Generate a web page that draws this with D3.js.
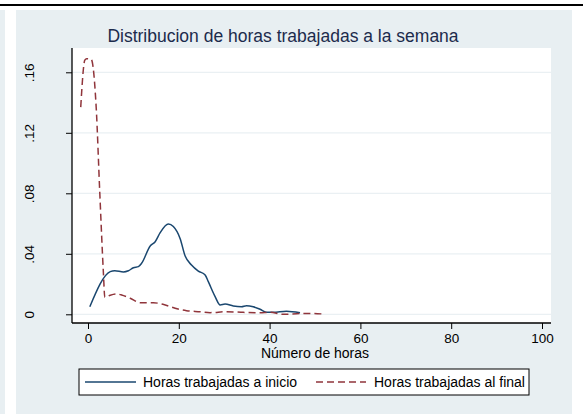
<!DOCTYPE html>
<html>
<head>
<meta charset="utf-8">
<script src="https://cdn.jsdelivr.net/npm/d3@7"></script>
<style>
  body { margin: 0; background: #fff; }
  svg { display: block; font-family: "Liberation Sans", Arial, sans-serif; }
</style>
</head>
<body>
<svg id="chart" width="583" height="419"></svg>
<script>
// Density of weekly hours, start of period (solid line).
const hoursInicio = [0.4, 4.9, 5.9, 7.8, 8.9, 10.0, 11.1, 11.8, 13.7, 14.8, 15.9, 17.7, 18.8, 20.3, 21.4, 22.8, 24.3, 25.8, 26.5, 28.0, 29.1, 30.2, 32.0, 33.8, 34.9, 36.4, 37.9, 39.4, 40.8, 43.7, 46.7];
const densInicio = [0.005, 0.0282, 0.0288, 0.028, 0.0288, 0.0308, 0.0315, 0.0337, 0.0452, 0.048, 0.054, 0.0597, 0.058, 0.050, 0.0385, 0.0326, 0.0286, 0.026, 0.0216, 0.0117, 0.0062, 0.0068, 0.0055, 0.005, 0.0057, 0.005, 0.0033, 0.0013, 0.0013, 0.002, 0.001];

// Density of weekly hours, end of period (dashed line).
const hoursFinal = [-1.6, -0.7, -0.3, 0.7, 1.8, 2.6, 3.4, 3.7, 4.9, 6.3, 7.4, 9.3, 11.5, 14.4, 16.5, 19.2, 21.7, 24.7, 26.9, 30.5, 34.2, 37.9, 40.0, 43.0, 45.9, 48.9, 51.8];
const densFinal = [0.137, 0.168, 0.169, 0.1686, 0.137, 0.08, 0.027, 0.0112, 0.0126, 0.0134, 0.0128, 0.0106, 0.0077, 0.0077, 0.0066, 0.004, 0.0024, 0.0017, 0.0011, 0.0017, 0.0013, 0.001, 0.0013, 0.0, 0.0004, 0.0006, 0.0002];

const xTicks = [0, 20, 40, 60, 80, 100];
const yTicks = [0, 0.04, 0.08, 0.12, 0.16];
const yTickLabels = ['0', '.04', '.08', '.12', '.16'];

const titleText = 'Distribucion de horas trabajadas a la semana';
const xTitle = 'Número de horas';
const legendLabels = ['Horas trabajadas a inicio', 'Horas trabajadas al final'];

const svg = d3.select('#chart');

// Colors.
const bg = '#e8eff2';
const blue = '#1a476f';
const red = '#90353b';

// Page bits around the graph.
svg.append('rect').attr('x', 0).attr('y', 4).attr('width', 583).attr('height', 2).attr('fill', '#000');
svg.append('rect').attr('x', 0).attr('y', 10).attr('width', 5).attr('height', 404).attr('fill', bg);
svg.append('rect').attr('x', 16).attr('y', 10).attr('width', 556).attr('height', 404).attr('fill', bg);

// Plot region.
const plot = { left: 72, right: 551, top: 48, bottom: 323 };
svg.append('rect')
  .attr('x', plot.left).attr('y', plot.top)
  .attr('width', plot.right - plot.left).attr('height', plot.bottom - plot.top)
  .attr('fill', '#fff');

// Scales.
const xScale = d3.scaleLinear().domain([0, 100]).range([88, 542]);
const yScale = d3.scaleLinear().domain([0, 0.16]).range([314.3, 72.3]);

// Grid lines.
svg.append('g')
  .selectAll('line')
  .data(yTicks)
  .join('line')
  .attr('x1', plot.left).attr('x2', plot.right)
  .attr('y1', d => yScale(d)).attr('y2', d => yScale(d))
  .attr('stroke', '#eaf0f3')
  .attr('stroke-width', 1.2);

// X-Axis.
const xAxis = svg.append('g')
  .attr('transform', `translate(0,${plot.bottom})`)
  .call(d3.axisBottom(xScale).tickValues(xTicks).tickSize(6).tickPadding(4));
xAxis.select('.domain').remove();
xAxis.selectAll('.tick line').attr('stroke', '#000');
xAxis.selectAll('.tick text')
  .attr('font-size', 13.5).attr('font-family', '"Liberation Sans", Arial, sans-serif').attr('fill', '#000');
svg.append('line')
  .attr('x1', plot.left).attr('x2', plot.right)
  .attr('y1', plot.bottom).attr('y2', plot.bottom)
  .attr('stroke', '#000').attr('stroke-width', 1.3);

// Y-Axis.
const yAxis = svg.append('g')
  .attr('transform', `translate(${plot.left},0)`)
  .call(d3.axisLeft(yScale).tickValues(yTicks).tickSize(6).tickFormat((d, i) => yTickLabels[i]));
yAxis.select('.domain').remove();
yAxis.selectAll('.tick line').attr('stroke', '#000');
yAxis.selectAll('.tick text')
  .attr('font-size', 13.5).attr('font-family', '"Liberation Sans", Arial, sans-serif').attr('fill', '#000')
  .attr('x', null).attr('dy', null)
  .attr('text-anchor', 'middle')
  .attr('transform', 'translate(-42,0) rotate(-90)')
  .attr('dominant-baseline', 'middle');
svg.append('line')
  .attr('x1', plot.left).attr('x2', plot.left)
  .attr('y1', plot.top).attr('y2', plot.bottom)
  .attr('stroke', '#000').attr('stroke-width', 1.3);

// Lines.
const line = d3.line().x(d => xScale(d[0])).y(d => yScale(d[1])).curve(d3.curveMonotoneX);

svg.append('path')
  .datum(hoursInicio.map((h, i) => [h, densInicio[i]]))
  .attr('fill', 'none')
  .attr('stroke', blue)
  .attr('stroke-width', 1.5)
  .attr('d', line);

svg.append('path')
  .datum(hoursFinal.map((h, i) => [h, densFinal[i]]))
  .attr('fill', 'none')
  .attr('stroke', red)
  .attr('stroke-width', 1.5)
  .attr('stroke-dasharray', '7,4')
  .attr('d', line);

// Title.
svg.append('text')
  .attr('x', 283).attr('y', 42)
  .attr('text-anchor', 'middle')
  .attr('font-size', 17.5)
  .attr('fill', '#1c2b4c')
  .text(titleText);

// X title.
svg.append('text')
  .attr('x', xScale(50)).attr('y', 358)
  .attr('text-anchor', 'middle')
  .attr('font-size', 14)
  .attr('fill', '#000')
  .text(xTitle);

// Legend.
const legend = svg.append('g');
legend.append('rect')
  .attr('x', 79).attr('y', 369).attr('width', 450).attr('height', 26)
  .attr('fill', '#fff').attr('stroke', '#000').attr('stroke-width', 1);
legend.append('line')
  .attr('x1', 85).attr('x2', 136).attr('y1', 382).attr('y2', 382)
  .attr('stroke', blue).attr('stroke-width', 1.5);
legend.append('text')
  .attr('x', 143).attr('y', 387).attr('font-size', 14).attr('fill', '#000')
  .text(legendLabels[0]);
legend.append('line')
  .attr('x1', 316).attr('x2', 366).attr('y1', 382).attr('y2', 382)
  .attr('stroke', red).attr('stroke-width', 1.5).attr('stroke-dasharray', '7,4');
legend.append('text')
  .attr('x', 374).attr('y', 387).attr('font-size', 14).attr('fill', '#000')
  .text(legendLabels[1]);
</script>
</body>
</html>
